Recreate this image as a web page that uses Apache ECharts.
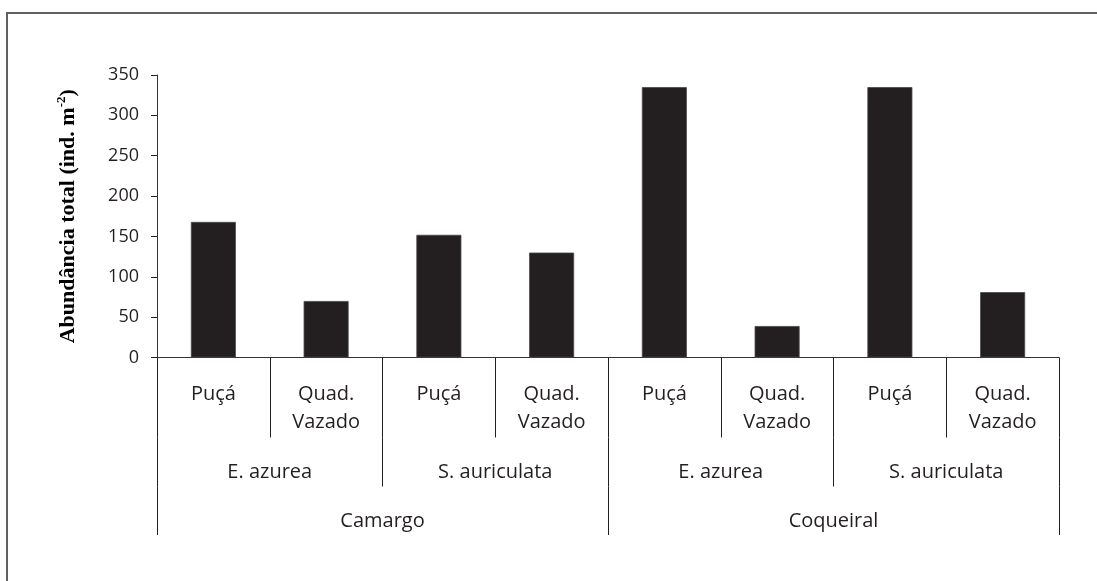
<!DOCTYPE html>
<html>
<head>
<meta charset="utf-8">
<script src="https://cdn.jsdelivr.net/npm/echarts@6/dist/echarts.min.js"></script>
<style>
  html, body { margin: 0; padding: 0; background: #fff; }
  #wrap { position: relative; width: 1097px; height: 581px; overflow: hidden; }
  #chart { position: absolute; left: 0; top: 0; width: 1097px; height: 581px; }
  #frame { position: absolute; left: 6px; top: 12px; width: 1200px; height: 700px;
           border-top: 2px solid #606060; border-left: 2px solid #606060; pointer-events: none; }
</style>
</head>
<body>
<div id="wrap">
  <div id="chart"></div>
  <div id="frame"></div>
</div>
<script>
// ---- data ----
const methods = ['Puçá', 'Quad.\nVazado', 'Puçá', 'Quad.\nVazado', 'Puçá', 'Quad.\nVazado', 'Puçá', 'Quad.\nVazado'];
const species = ['E. azurea', 'S. auriculata', 'E. azurea', 'S. auriculata'];
const sites = ['Camargo', 'Coqueiral'];
const abundance = [168, 70, 152, 130, 335, 39, 335, 81];
const yTicks = { min: 0, max: 350, interval: 50 };
const yTitle = 'Abundância total (ind. m{sup|-2})';

// ---- chart ----
const ink = '#231f20';
const labelFont = { fontFamily: '"Open Sans", sans-serif', fontSize: 20, color: ink };
const chart = echarts.init(document.getElementById('chart'), null, { renderer: 'canvas' });

function levelAxis(data, offset, tickLen, margin, showLine) {
  return {
    type: 'category',
    data: data,
    position: 'bottom',
    offset: offset,
    boundaryGap: true,
    axisLine: { show: showLine, lineStyle: { color: '#333', width: 1 } },
    axisTick: { show: true, interval: 0, length: tickLen, lineStyle: { color: ink, width: 1 } },
    axisLabel: Object.assign({ interval: 0, margin: margin, lineHeight: 28 }, labelFont),
    splitLine: { show: false }
  };
}

chart.setOption({
  animation: false,
  backgroundColor: '#fff',
  grid: { left: 157, right: 38, top: 75, bottom: 223.5, containLabel: false },
  xAxis: [
    levelAxis(methods, 0, 80, 23, true),
    levelAxis(species, 80, 49, 21, false),
    levelAxis(sites, 129, 48.5, 21, false)
  ],
  yAxis: {
    type: 'value',
    min: yTicks.min, max: yTicks.max, interval: yTicks.interval,
    axisLine: { show: true, lineStyle: { color: '#333', width: 1 } },
    axisTick: { show: true, length: 6, lineStyle: { color: ink } },
    splitLine: { show: false },
    axisLabel: Object.assign({ margin: 18 }, labelFont, { fontSize: 18 }),
    name: yTitle,
    nameLocation: 'middle',
    nameGap: 76,
    nameTextStyle: {
      fontFamily: '"Liberation Serif", "Times New Roman", serif',
      fontWeight: 'bold', fontSize: 22, color: '#000', lineHeight: 26,
      rich: {
        sup: { fontFamily: '"Liberation Serif", serif', fontWeight: 'bold', fontSize: 13,
               color: '#000', verticalAlign: 'top', lineHeight: 15 }
      }
    }
  },
  series: [{
    type: 'bar',
    xAxisIndex: 0,
    data: abundance,
    barWidth: 45,
    itemStyle: { color: ink, borderColor: '#4a4748', borderWidth: 0.8 }
  }]
});
</script>
</body>
</html>
